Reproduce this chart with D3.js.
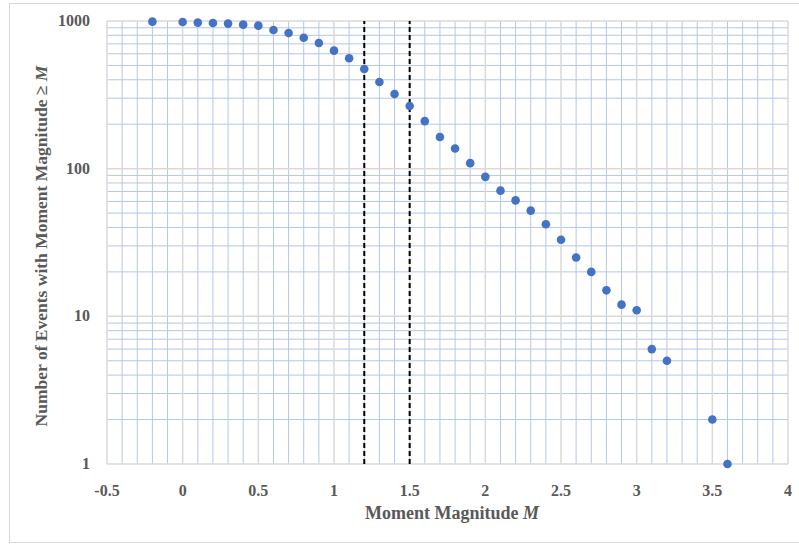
<!DOCTYPE html>
<html>
<head>
<meta charset="utf-8">
<script src="https://cdn.jsdelivr.net/npm/d3@7"></script>
<style>
  body { margin: 0; background: #fff; }
  text { font-family: "Liberation Serif", "DejaVu Serif", serif; fill: #595959; }
</style>
</head>
<body>
<div id="container"></div>
<script>
// magnitudes and cumulative counts
const magnitudes = [-0.2, 0, 0.1, 0.2, 0.3, 0.4, 0.5, 0.6, 0.7, 0.8, 0.9, 1.0, 1.1, 1.2, 1.3, 1.4, 1.5, 1.6, 1.7, 1.8, 1.9, 2.0, 2.1, 2.2, 2.3, 2.4, 2.5, 2.6, 2.7, 2.8, 2.9, 3.0, 3.1, 3.2, 3.5, 3.6]
const counts = [990, 985, 975, 970, 960, 945, 930, 870, 830, 770, 710, 630, 560, 473, 386, 320, 266, 210, 164, 137, 109, 88, 71, 61, 52, 42, 33, 25, 20, 15, 12, 11, 6, 5, 2, 1]
const cutoffs = [1.2, 1.5]
const xTicks = [-0.5, 0, 0.5, 1, 1.5, 2, 2.5, 3, 3.5, 4]
const yTicks = [1, 10, 100, 1000]

const width = 799, height = 545
const margin = {top: 21, right: 11, bottom: 81, left: 107}

const svg = d3.select("#container").append("svg")
    .attr("width", width)
    .attr("height", height)

// outer chart frame
svg.append("rect")
    .attr("x", 9.5).attr("y", 3.5)
    .attr("width", 800).attr("height", 539)
    .attr("fill", "#fff")
    .attr("stroke", "#d9d9d9")

const x = d3.scaleLinear().domain([-0.5, 4]).range([margin.left, width - margin.right])
const y = d3.scaleLog().domain([1, 1000]).range([height - margin.bottom, margin.top])

const grid = svg.append("g")

// minor vertical lines every 0.1
const minorX = d3.range(-5, 41).filter(i => i % 5 !== 0).map(i => i / 10)
grid.selectAll(".vminor")
    .data(minorX)
    .enter()
    .append("line")
    .attr("x1", d => x(d)).attr("x2", d => x(d))
    .attr("y1", y(1)).attr("y2", y(1000))
    .attr("stroke", "#b4c7e7")
    .attr("stroke-width", 1)

// minor horizontal lines 2..9 of each decade
const minorY = []
for (const base of [1, 10, 100]) {
    for (let k = 2; k <= 9; k++) minorY.push(base * k)
}
grid.selectAll(".hminor")
    .data(minorY)
    .enter()
    .append("line")
    .attr("x1", x(-0.5)).attr("x2", x(4))
    .attr("y1", d => y(d)).attr("y2", d => y(d))
    .attr("stroke", "#b4c7e7")
    .attr("stroke-width", 1)

// major lines
grid.selectAll(".vmajor")
    .data(xTicks)
    .enter()
    .append("line")
    .attr("x1", d => x(d)).attr("x2", d => x(d))
    .attr("y1", y(1)).attr("y2", y(1000))
    .attr("stroke", "#d9d9d9")
    .attr("stroke-width", 1.5)

grid.selectAll(".hmajor")
    .data(yTicks)
    .enter()
    .append("line")
    .attr("x1", x(-0.5)).attr("x2", x(4))
    .attr("y1", d => y(d)).attr("y2", d => y(d))
    .attr("stroke", "#d9d9d9")
    .attr("stroke-width", 1.5)

// cutoff lines
svg.selectAll(".cutoff")
    .data(cutoffs)
    .enter()
    .append("line")
    .attr("x1", d => x(d)).attr("x2", d => x(d))
    .attr("y1", y(1)).attr("y2", y(1000))
    .attr("stroke", "#000")
    .attr("stroke-width", 2)
    .attr("stroke-dasharray", "5,3")

// points
svg.selectAll("circle")
    .data(magnitudes)
    .enter()
    .append("circle")
    .attr("cx", d => x(d))
    .attr("cy", (d, i) => y(counts[i]))
    .attr("r", 4.3)
    .attr("fill", "#4472c4")

// tick labels
svg.selectAll(".xlab")
    .data(xTicks)
    .enter()
    .append("text")
    .attr("x", d => x(d))
    .attr("y", 496)
    .attr("text-anchor", "middle")
    .style("font-size", "16px")
    .style("font-weight", "bold")
    .text(d => d)

svg.selectAll(".ylab")
    .data(yTicks)
    .enter()
    .append("text")
    .attr("x", 90)
    .attr("y", d => y(d) + 5)
    .attr("text-anchor", "end")
    .style("font-size", "16px")
    .style("font-weight", "bold")
    .text(d => d)

// axis titles
const xTitle = svg.append("text")
    .attr("x", 452)
    .attr("y", 519)
    .attr("text-anchor", "middle")
    .style("font-size", "18px")
    .style("font-weight", "bold")
xTitle.append("tspan").text("Moment Magnitude ")
xTitle.append("tspan").style("font-style", "italic").text("M")

const yTitle = svg.append("text")
    .attr("transform", "translate(47,246) rotate(-90)")
    .attr("text-anchor", "middle")
    .style("font-size", "17.5px")
    .style("font-weight", "bold")
yTitle.append("tspan").text("Number of Events with Moment Magnitude ≥ ")
yTitle.append("tspan").style("font-style", "italic").text("M")
</script>
</body>
</html>
